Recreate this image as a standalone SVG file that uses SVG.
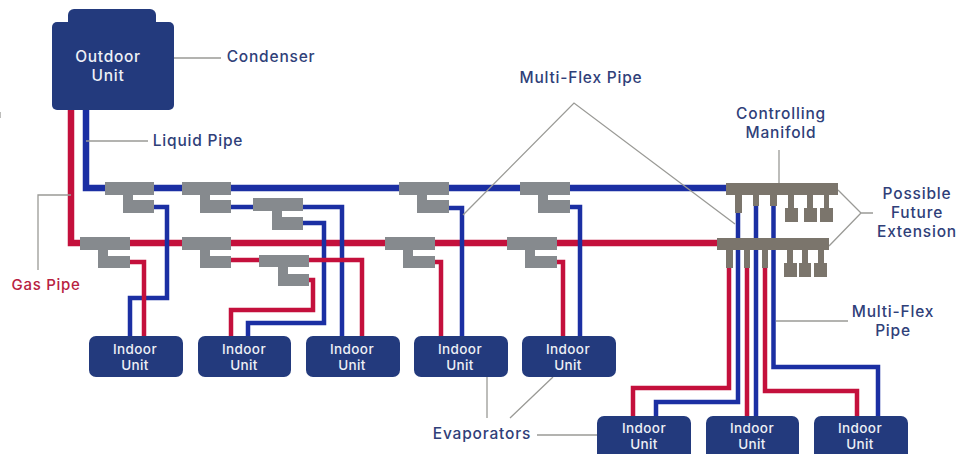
<svg xmlns="http://www.w3.org/2000/svg" width="968" height="454" viewBox="0 0 968 454">
<style>
.unit{fill:#233a7d}
.tee{fill:#868a8e}
.man{fill:#7b756c}
.p{fill:none;stroke-linejoin:miter}
.rm{stroke:#c4103c;stroke-width:6.5}
.bm{stroke:#1b2fa3;stroke-width:6.5}
.r{stroke:#c4103c;stroke-width:4.5}
.b{stroke:#1b2fa3;stroke-width:4.5}
.l{fill:none;stroke:#9a9a96;stroke-width:1.3}
text{font-family:"Inter","Liberation Sans",sans-serif;font-weight:500;text-anchor:middle}
.u{fill:#eef0f6;font-size:13.500px;letter-spacing:.4px}
.o{fill:#eef0f6;font-size:15.500px;letter-spacing:.7px}
.t{fill:#2f4079;font-size:15.500px;letter-spacing:.8px}
.g{fill:#b8223f;font-size:15px;letter-spacing:.7px}
</style>
<rect width="968" height="454" fill="#fff"/>
<g id="connectors">
<path class="p rm" d="M71 110V243H720"/>
<path class="p bm" d="M86 110V188H728"/>
<path class="p b" d="M154 207H167V298H130V337"/>
<path class="p r" d="M130 262H144V337"/>
<path class="p b" d="M231 207H253"/>
<path class="p b" d="M303 207H342V337"/>
<path class="p b" d="M303 223H324V323H248V337"/>
<path class="p r" d="M231 260H259"/>
<path class="p r" d="M309 260H362V337"/>
<path class="p r" d="M309 280H313V310H231V337"/>
<path class="p b" d="M449 208H462V337"/>
<path class="p b" d="M570 207H580V337"/>
<path class="p r" d="M435 262H441V337"/>
<path class="p r" d="M557 262H563V337"/>
<path class="p b" d="M738 212V402H656V417"/>
<path class="p b" d="M756 205V417"/>
<path class="p b" d="M773.500 205V367H878V417"/>
<path class="p r" d="M729 267V388H633V417"/>
<path class="p r" d="M747 267V417"/>
<path class="p r" d="M765 267V391H857V417"/>
<path class="l" d="M159 58H221"/>
<path class="l" d="M86 141H148"/>
<path class="l" d="M71 195H38V270"/>
<path class="l" d="M463 215L574 103L735 224"/>
<path class="l" d="M779 150V183"/>
<path class="l" d="M838 190L861 213L829 246M861 213H873"/>
<path class="l" d="M776 321H848"/>
<path class="l" d="M487 377V418M553 377L510 418M537 435H597"/>
<path class="l" d="M0 112V118"/>
</g>
<g id="outdoor-unit">
<rect class="unit" x="68" y="9" width="88" height="40" rx="6"/>
<rect class="unit" x="52" y="22" width="122" height="88" rx="5"/>
<text class="o" x="108" y="62">Outdoor</text>
<text class="o" x="108" y="81">Unit</text>
</g>
<g id="tee-1"><path class="tee" d="M105 182H154V195H133V200H154V213H123V195H105Z"/></g>
<g id="tee-2"><path class="tee" d="M182 182H231V195H210V200H231V213H200V195H182Z"/></g>
<g id="tee-3"><path class="tee" d="M253 198H303V211H282V217H303V230H272V211H253Z"/></g>
<g id="tee-4"><path class="tee" d="M80 237H130V250H108V256H130V268H98V250H80Z"/></g>
<g id="tee-5"><path class="tee" d="M182 237H231V250H210V256H231V268H200V250H182Z"/></g>
<g id="tee-6"><path class="tee" d="M259 255H309V267H288V274H309V286H278V267H259Z"/></g>
<g id="tee-7"><path class="tee" d="M399 182H449V195H427V200H449V213H417V195H399Z"/></g>
<g id="tee-8"><path class="tee" d="M520 182H570V195H548V200H570V213H538V195H520Z"/></g>
<g id="tee-9"><path class="tee" d="M385 237H435V250H413V256H435V268H403V250H385Z"/></g>
<g id="tee-10"><path class="tee" d="M507 237H557V250H535V256H557V268H525V250H507Z"/></g>
<g id="manifold-top">
<rect class="man" x="726" y="183" width="112" height="12"/>
<rect class="man" x="735" y="195" width="7" height="18"/>
<rect class="man" x="753" y="195" width="6" height="11"/>
<rect class="man" x="770" y="195" width="7" height="11"/>
<rect class="man" x="788" y="195" width="6" height="14"/>
<rect class="man" x="785" y="208" width="13" height="14"/>
<rect class="man" x="807" y="195" width="6" height="14"/>
<rect class="man" x="804" y="208" width="13" height="14"/>
<rect class="man" x="824" y="195" width="5" height="14"/>
<rect class="man" x="820" y="208" width="13" height="14"/>
</g>
<g id="manifold-bottom">
<rect class="man" x="717" y="238" width="112" height="12"/>
<rect class="man" x="726" y="250" width="7" height="18"/>
<rect class="man" x="744" y="250" width="6" height="18"/>
<rect class="man" x="762" y="250" width="6" height="18"/>
<rect class="man" x="787" y="250" width="6" height="14"/>
<rect class="man" x="784" y="263" width="13" height="14"/>
<rect class="man" x="802" y="250" width="6" height="14"/>
<rect class="man" x="799" y="263" width="12" height="14"/>
<rect class="man" x="818" y="250" width="6" height="14"/>
<rect class="man" x="814" y="263" width="13" height="14"/>
</g>
<g id="indoor-1"><rect class="unit" x="89" y="336" width="94" height="41" rx="7"/><text class="u" x="135" y="354">Indoor</text><text class="u" x="135" y="370">Unit</text></g>
<g id="indoor-2"><rect class="unit" x="198" y="336" width="93" height="41" rx="7"/><text class="u" x="244" y="354">Indoor</text><text class="u" x="244" y="370">Unit</text></g>
<g id="indoor-3"><rect class="unit" x="306" y="336" width="94" height="41" rx="7"/><text class="u" x="352" y="354">Indoor</text><text class="u" x="352" y="370">Unit</text></g>
<g id="indoor-4"><rect class="unit" x="414" y="336" width="94" height="41" rx="7"/><text class="u" x="460" y="354">Indoor</text><text class="u" x="460" y="370">Unit</text></g>
<g id="indoor-5"><rect class="unit" x="522" y="336" width="94" height="41" rx="7"/><text class="u" x="568" y="354">Indoor</text><text class="u" x="568" y="370">Unit</text></g>
<g id="indoor-6"><rect class="unit" x="597" y="416" width="94" height="44" rx="7"/><text class="u" x="644" y="433">Indoor</text><text class="u" x="644" y="449">Unit</text></g>
<g id="indoor-7"><rect class="unit" x="706" y="416" width="93" height="44" rx="7"/><text class="u" x="752" y="433">Indoor</text><text class="u" x="752" y="449">Unit</text></g>
<g id="indoor-8"><rect class="unit" x="814" y="416" width="94" height="44" rx="7"/><text class="u" x="860" y="433">Indoor</text><text class="u" x="860" y="449">Unit</text></g>
<g id="labels">
<text class="t" x="271" y="62">Condenser</text>
<text class="t" x="198" y="146">Liquid Pipe</text>
<text class="g" x="46" y="290">Gas Pipe</text>
<text class="t" x="581" y="83">Multi-Flex Pipe</text>
<text class="t" x="781" y="119">Controlling</text>
<text class="t" x="781" y="138">Manifold</text>
<text class="t" x="917" y="199">Possible</text>
<text class="t" x="917" y="218">Future</text>
<text class="t" x="917" y="237">Extension</text>
<text class="t" x="893" y="317">Multi-Flex</text>
<text class="t" x="893" y="336">Pipe</text>
<text class="t" x="482" y="439">Evaporators</text>
</g>
</svg>
